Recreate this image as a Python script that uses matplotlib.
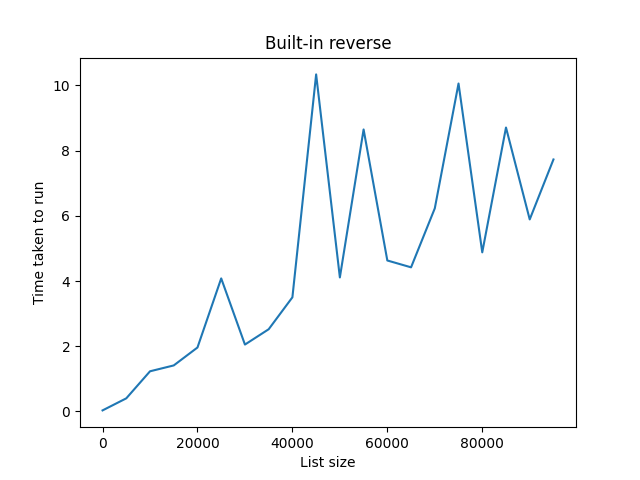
import matplotlib
matplotlib.use("Agg")
import matplotlib.pyplot as plt

sizes = list(range(0, 100000, 5000))
times = [0.03, 0.4, 1.23, 1.41, 1.96, 4.08, 2.05, 2.52, 3.5, 10.34,
         4.11, 8.65, 4.63, 4.42, 6.23, 10.06, 4.88, 8.71, 5.89, 7.73]

fig, ax = plt.subplots(figsize=(6.4, 4.8), dpi=100)
ax.plot(sizes, times)
ax.set_title("Built-in reverse")
ax.set_xlabel("List size")
ax.set_ylabel("Time taken to run")
fig.savefig("out.png")
